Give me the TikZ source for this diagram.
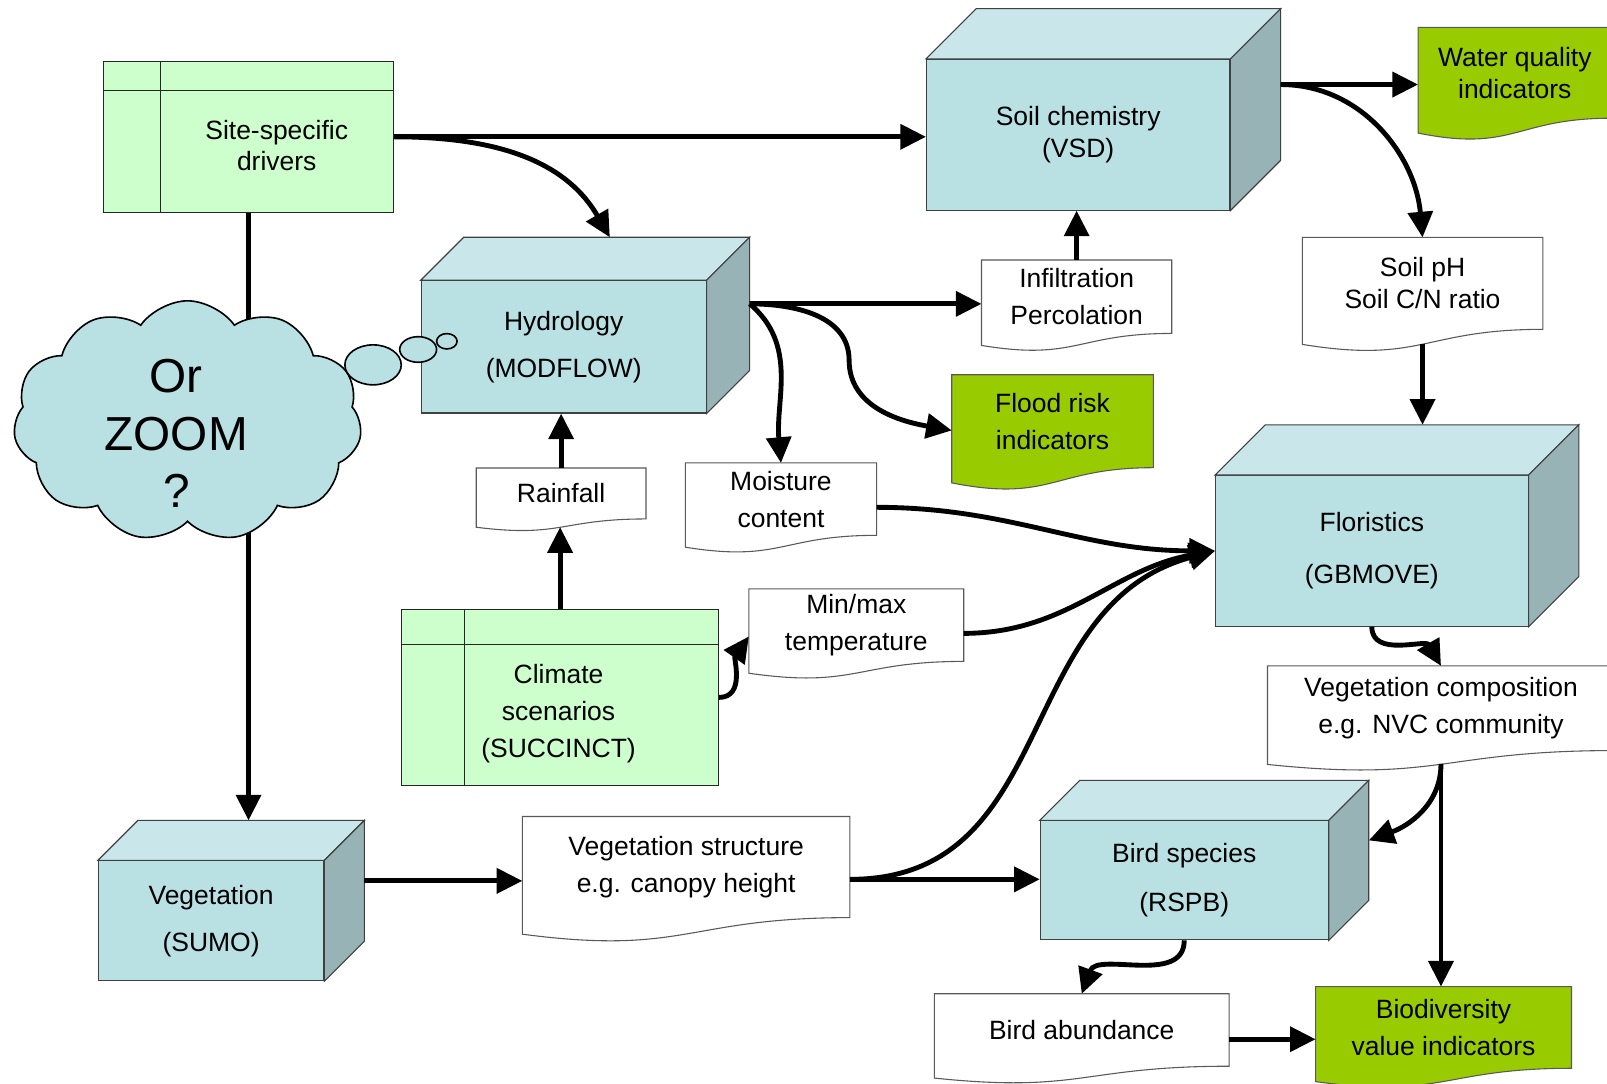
\documentclass[tikz,border=0pt]{standalone}
\usepackage{fontspec}
\setmainfont{Liberation Sans}
\usetikzlibrary{
    arrows.meta,
    calc,
    shapes.symbols,
    shapes.geometric,
    backgrounds,
    positioning
}
\definecolor{tabgreen}{HTML}{CCFFCC}
\definecolor{cubefront}{HTML}{B9E0E3}
\definecolor{cubetop}{HTML}{C9E7EA}
\definecolor{cubeside}{HTML}{97B3B6}
\definecolor{indgreen}{HTML}{99CC00}

\newcommand{\cubefaces}[2]{%
    \coordinate (#1-nw) at ($(#1.north west)+(#2,-#2)$);
    \coordinate (#1-ne) at ($(#1.north east)+(#2,-#2)$);
    \coordinate (#1-se) at ($(#1.south east)+(#2,-#2)$);
    \draw[cubeedge, fill=cubetop] (#1.north west) -- (#1-nw) -- (#1-ne) -- (#1.north east) -- cycle;
    \draw[cubeedge, fill=cubeside] (#1.north east) -- (#1-ne) -- (#1-se) -- (#1.south east) -- cycle;}
\newcommand{\docpath}[3]{%
    \draw[docedge, fill=#2] (#1.north west) -- (#1.north east) -- (#1.south east)
        .. controls (#1.south) and ($(#1.south)+(0,0.38*#3)$) .. ($(#1.south west)+(0,0.165*#3)$) -- cycle;}
\newcommand{\tablelines}[3]{%
    \draw[tabedge] ($(#1.north west)+(#2,0)$) -- ($(#1.south west)+(#2,0)$)
        ($(#1.north west)+(0,#3)$) -- ($(#1.north east)+(0,#3)$);}

\begin{document}
\begin{tikzpicture}[x=0.02cm, y=-0.02cm,
    every node/.style={align=center, inner sep=0pt, font=\fontsize{14.7}{17.6}\selectfont},
    linegap/.style={font=\fontsize{14.7}{#1}\selectfont},
    tabbox/.style={draw=black!85, fill=tabgreen, line width=0.6pt},
    tabedge/.style={draw=black!85, line width=0.6pt},
    model/.style={draw=black!75, fill=cubefront, line width=0.6pt},
    cubeedge/.style={draw=black!75, line width=0.6pt},
    docbox/.style={linegap=20.5pt},
    docedge/.style={draw=black!65, line width=0.6pt},
    bubble/.style={draw, fill=cubefront, line width=0.9pt},
    flow/.style={line width=2.7pt, -{Triangle[length=0.5cm, width=0.48cm]}}
]
    \useasboundingbox (0,0) rectangle (1568,1057);

    \node[tabbox, minimum width=5.66cm, minimum height=2.94cm] (site) at (242.5,133.5) {};
    \node (sitetext) at (270,142) {Site-specific\\drivers};
    \node[tabbox, minimum width=6.18cm, minimum height=3.42cm] (clim) at (546.5,680.5) {};
    \node[linegap=20.5pt] (climtext) at (545,696) {Climate\\scenarios\\(SUCCINCT)};
    \tablelines{site}{56}{29}
    \tablelines{clim}{62}{34}

    \node[model, minimum width=5.92cm, minimum height=2.94cm] (soil) at (1052,131.5) {Soil chemistry\\(VSD)};
    \node[model, linegap=26.2pt, minimum width=5.56cm, minimum height=2.58cm] (hydro) at (550,338.5) {Hydrology\\(MODFLOW)};
    \node[model, linegap=29pt, minimum width=6.1cm, minimum height=2.94cm] (flor) at (1338.5,537.5) {Floristics\\(GBMOVE)};
    \node[model, linegap=26.2pt, minimum width=4.4cm, minimum height=2.34cm] (veg) at (206,898.5) {Vegetation\\(SUMO)};
    \node[model, linegap=27.3pt, minimum width=5.62cm, minimum height=2.32cm] (bird) at (1155.5,859) {Bird species\\(RSPB)};
    \cubefaces{soil}{49}
    \cubefaces{hydro}{42}
    \cubefaces{flor}{49}
    \cubefaces{veg}{39}
    \cubefaces{bird}{39}

    \node[docbox, linegap=17.6pt, minimum width=3.76cm, minimum height=1.76cm] (water) at (1478,71) {Water quality\\indicators};
    \node[docbox, minimum width=3.7cm, minimum height=1.42cm] (infil) at (1050.5,289.5) {Infiltration\\Percolation};
    \node[docbox, linegap=17.6pt, minimum width=4.68cm, minimum height=1.78cm] (soilph) at (1388,276.5) {Soil pH\\Soil C/N ratio};
    \node[docbox, minimum width=3.92cm, minimum height=1.8cm] (flood) at (1027,411) {Flood risk\\indicators};
    \node[docbox, minimum width=3.3cm, minimum height=0.98cm] (rain) at (547.5,481.5) {Rainfall};
    \node[docbox, minimum width=3.72cm, minimum height=1.4cm] (moist) at (762,487) {Moisture\\content};
    \node[docbox, minimum width=4.18cm, minimum height=1.4cm] (minmax) at (835.5,610) {Min/max\\temperature};
    \node[docbox, minimum width=6.76cm, minimum height=1.64cm] (vegcomp) at (1406,691) {Vegetation composition\\e.g. NVC community};
    \node[docbox, minimum width=6.38cm, minimum height=1.96cm] (vegstruct) at (669.5,846) {Vegetation structure\\e.g. canopy height};
    \node[docbox, minimum width=5.74cm, minimum height=1.4cm] (birdab) at (1055.5,1005) {Bird abundance};
    \node[docbox, minimum width=4.98cm, minimum height=1.58cm] (biodiv) at (1408.5,1002.5) {Biodiversity\\value indicators};

    \begin{scope}[on background layer]
        \fill[white] (0,0) rectangle (1568,1057);
        \foreach \n/\c/\h in {water/indgreen/88, infil/white/71, soilph/white/89, flood/indgreen/90,
            rain/white/49, moist/white/70, minmax/white/70, vegcomp/white/82,
            vegstruct/white/98, birdab/white/70, biodiv/indgreen/79}
            {\docpath{\n}{\c}{\h}}
    \end{scope}

    \coordinate (soilR) at ($(soil-ne)!0.5!(soil-se)$);
    \coordinate (hydroR) at ($(hydro-ne)!0.5!(hydro-se)$);
    \coordinate (vegR) at ($(veg-ne)!0.5!(veg-se)$);
    \coordinate (birdR) at ($(bird-ne)!0.5!(bird-se)$);
    \coordinate (soilphB) at ($(soilph.south)+(0,14)$);
    \coordinate (rainB) at ($(rain.south)+(0,8)$);
    \coordinate (vegcompB) at ($(vegcomp.south)+(0,13)$);
    \coordinate (vegstructE) at ($(vegstruct.east)+(0,12)$);
    \coordinate (birdabE) at ($(birdab.east)+(0,9)$);

    \draw[flow] (site.east) -- (site.east -| soil.west);
    \draw[flow] (site.east) to[out=0, in=120] ($(hydro.north)+(45,-42)$);
    \draw[flow] (site.south) -- (site.south |- veg-nw);
    \draw[flow] (soilR) -- (soilR -| water.west);
    \draw[flow] (soilR) to[out=0, in=95] (soilph.north);
    \draw[flow] (infil.north) -- (infil.north |- soil.south);
    \draw[flow] (hydroR) -- (hydroR -| infil.west);
    \draw[flow] (hydroR) to[out=-40, in=95] (moist.north);
    \draw[flow] (hydroR) to[out=0, in=90] ++(97,55) to[out=-90, in=170] ($(flood.west)+(0,9)$);
    \draw[flow] (soilphB) -- (soilphB |- flor-nw);
    \draw[flow] (rain.north) -- (rain.north |- hydro.south);
    \draw[flow] (clim.north) -- (clim.north |- rainB);
    \draw[flow] (clim.east) to[out=0, in=235] ($(minmax.west)+(0,11)$);
    \draw[flow] ($(moist.east)+(0,8)$) to[out=0, in=180] (flor.west);
    \draw[flow] ($(minmax.east)+(0,8)$) to[out=0, in=190] (flor.west);
    \draw[flow] (vegstructE) to[out=0, in=195, looseness=1.1] (flor.west);
    \draw[flow] (vegstructE) -- (vegstructE -| bird.west);
    \draw[flow] (vegR) -- (vegR -| vegstruct.west);
    \draw[flow] (flor.south) to[out=-90, in=120] (vegcomp.north);
    \draw[flow] (vegcompB) -- (vegcompB |- biodiv.north);
    \draw[flow] (vegcompB) to[out=-90, in=20] (birdR);
    \draw[flow] (bird.south) to[out=-90, in=70] (birdab.north);
    \draw[flow] (birdabE) -- (birdabE -| biodiv.west);

    \node[cloud, cloud puffs=11, cloud puff arc=110, aspect=1.45, draw, fill=cubefront, line width=0.9pt,
        minimum width=6.8cm, minimum height=4.7cm] (cloud) at (183,411) {};
    \node[font=\fontsize{26.5}{31.8}\selectfont] (cloudtext) at (172,423) {Or\\ZOOM\\?};
    \node[ellipse, bubble, minimum width=1.1cm, minimum height=0.78cm] (bub1) at (364,356) {};
    \node[ellipse, bubble, minimum width=0.72cm, minimum height=0.5cm] (bub2) at (408,341) {};
    \node[ellipse, bubble, minimum width=0.4cm, minimum height=0.3cm] (bub3) at (436,333) {};
\end{tikzpicture}
\end{document}
